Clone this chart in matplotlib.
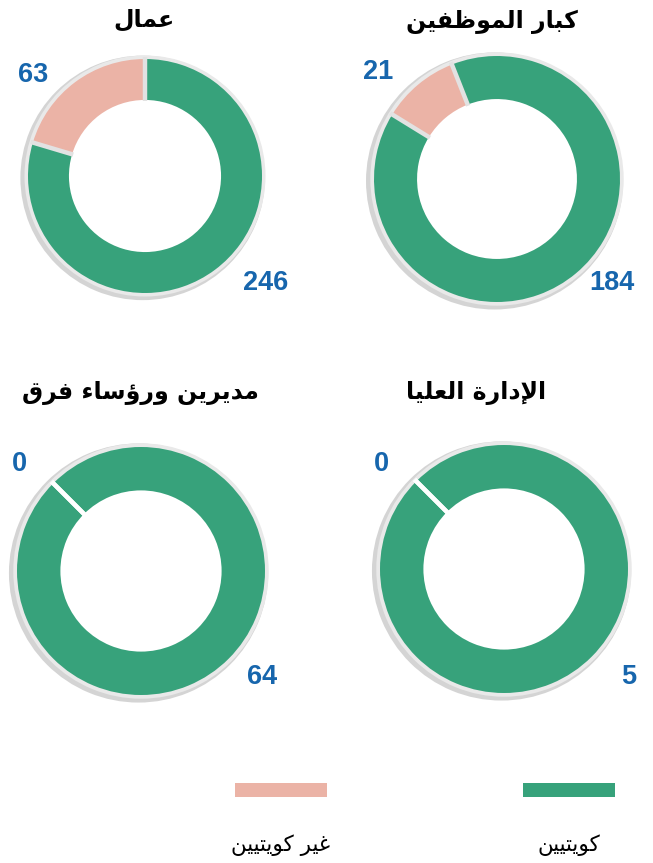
import matplotlib
matplotlib.use('Agg')
import matplotlib.pyplot as plt
import numpy as np
from matplotlib.patches import Wedge, Rectangle

# ---- data -------------------------------------------------------------
titles = ['كبار الموظفين', 'عمال', 'الإدارة العليا', 'مديرين ورؤساء فرق']
kuwaiti = [184, 246, 5, 64]
non_kuwaiti = [21, 63, 0, 0]
legend_labels = ['كويتيين', 'غير كويتيين']

GREEN = '#37a27b'
PINK = '#ebb3a6'
BLUE = '#1766ad'

W, H = 653, 863

# ---- minimal arabic shaping (matplotlib has no complex text layout) ----
DUAL = {'ب': 0xFE8F, 'ت': 0xFE95, 'س': 0xFEB1, 'ظ': 0xFEC5, 'ع': 0xFEC9,
        'غ': 0xFECD, 'ف': 0xFED1, 'ق': 0xFED5, 'ك': 0xFED9, 'ل': 0xFEDD,
        'م': 0xFEE1, 'ن': 0xFEE5, 'ي': 0xFEF1, 'ه': 0xFEE9, 'ج': 0xFE9D,
        'ح': 0xFEA1, 'خ': 0xFEA5, 'ش': 0xFEB5, 'ص': 0xFEB9, 'ض': 0xFEBD,
        'ط': 0xFEC1, 'ث': 0xFE99, 'ئ': 0xFE89}
RIGHT = {'ا': 0xFE8D, 'إ': 0xFE87, 'أ': 0xFE83, 'آ': 0xFE81, 'ؤ': 0xFE85,
         'ة': 0xFE93, 'د': 0xFEA9, 'ذ': 0xFEAB, 'ر': 0xFEAD, 'ز': 0xFEAF,
         'و': 0xFEED}
LAM_ALEF = {'ا': 0xFEFB, 'إ': 0xFEF9, 'أ': 0xFEF7, 'آ': 0xFEF5}


def shape(text):
    units = []
    i = 0
    while i < len(text):
        c = text[i]
        if c == 'ل' and i + 1 < len(text) and text[i + 1] in LAM_ALEF:
            units.append(('LA', text[i + 1]))
            i += 2
        else:
            units.append(('C', c))
            i += 1

    def joins_next(u):
        return u is not None and u[0] == 'C' and u[1] in DUAL

    def joins_prev(u):
        return u is not None and (u[0] == 'LA' or u[1] in DUAL or u[1] in RIGHT)

    out = []
    for k, (kind, c) in enumerate(units):
        prev = units[k - 1] if k > 0 else None
        nxt = units[k + 1] if k + 1 < len(units) else None
        p = joins_next(prev)
        if kind == 'LA':
            out.append(chr(LAM_ALEF[c] + (1 if p else 0)))
        elif c in DUAL:
            n = joins_prev(nxt)
            off = 3 if (p and n) else 1 if p else 2 if n else 0
            out.append(chr(DUAL[c] + off))
        elif c in RIGHT:
            out.append(chr(RIGHT[c] + (1 if p else 0)))
        elif c == 'ء':
            out.append(chr(0xFE80))
        else:
            out.append(c)
    return ''.join(reversed(out))


# ---- layout (pixel positions of each donut) ---------------------------
centers = [(497, 179), (145, 176), (504, 569), (141, 571)]
radii = [123, 117, 124, 124]
starts = [111.5, 90, 135, 135]
title_pos = [(492, 22), (144, 20), (476, 393), (140, 393)]
pink_lab = [(378, 72), (33, 75), (381, 464), (19, 464)]
green_lab = [(612, 283), (266, 283), (629, 677), (262, 677)]
HOLE = 0.65

fig = plt.figure(figsize=(W / 100, H / 100), dpi=100)
fig.patch.set_facecolor('white')

for i in range(4):
    cx, cy = centers[i]
    R = radii[i]
    lim = 1.15
    side = 2 * R * lim
    ax = fig.add_axes([(cx - side / 2) / W, 1 - (cy + side / 2) / H,
                       side / W, side / H])
    ax.axis('off')

    # grey rim with a soft shadow to the lower left
    ax.add_patch(Wedge((-0.02, -0.016), 1.045, 0, 360, width=0.2,
                       facecolor='#d4d4d4', edgecolor='none', zorder=0))
    ax.add_patch(Wedge((0, 0), 1.03, 0, 360, width=0.2,
                       facecolor='#e9e9e9', edgecolor='none', zorder=0.5))

    vals = [kuwaiti[i], non_kuwaiti[i]]
    ax.pie(vals, colors=[GREEN, PINK], startangle=starts[i],
           counterclock=False, radius=1.0,
           wedgeprops=dict(width=1 - HOLE, edgecolor='none', linewidth=0))

    # radial separators between slices (white where a slice is empty)
    gap = 'white' if non_kuwaiti[i] == 0 else '#e2e2e2'
    total = float(sum(vals))
    for frac in np.cumsum(vals) / total:
        th = np.deg2rad(starts[i] - 360 * frac)
        r = np.array([HOLE - 0.01, 1.02])
        ax.plot(r * np.cos(th), r * np.sin(th), color=gap, lw=3.2,
                solid_capstyle='butt', zorder=2)

    ax.set_xlim(-lim, lim)
    ax.set_ylim(-lim, lim)
    ax.set_aspect('equal')

    for (lx, ly), val in ((pink_lab[i], non_kuwaiti[i]),
                          (green_lab[i], kuwaiti[i])):
        ax.text((lx - cx) / R, -(ly - cy) / R, str(val), color=BLUE,
                fontsize=19.5, fontweight='bold', family='Liberation Sans',
                ha='center', va='center', clip_on=False)

    tx, ty = title_pos[i]
    fig.text(tx / W, 1 - ty / H, shape(titles[i]), fontsize=17,
             fontweight='bold', family='DejaVu Sans', ha='center',
             va='center')

# ---- legend -----------------------------------------------------------
leg_x = [569, 281]
for lx, col, lab in zip(leg_x, [GREEN, PINK], legend_labels):
    fig.patches.append(Rectangle(((lx - 46) / W, 1 - 797 / H), 92 / W,
                                 14 / H, transform=fig.transFigure,
                                 facecolor=col, edgecolor='none'))
    fig.text(lx / W, 1 - 845 / H, shape(lab), fontsize=15.5,
             family='DejaVu Sans', ha='center', va='center')

fig.savefig('out.png', dpi=100)
